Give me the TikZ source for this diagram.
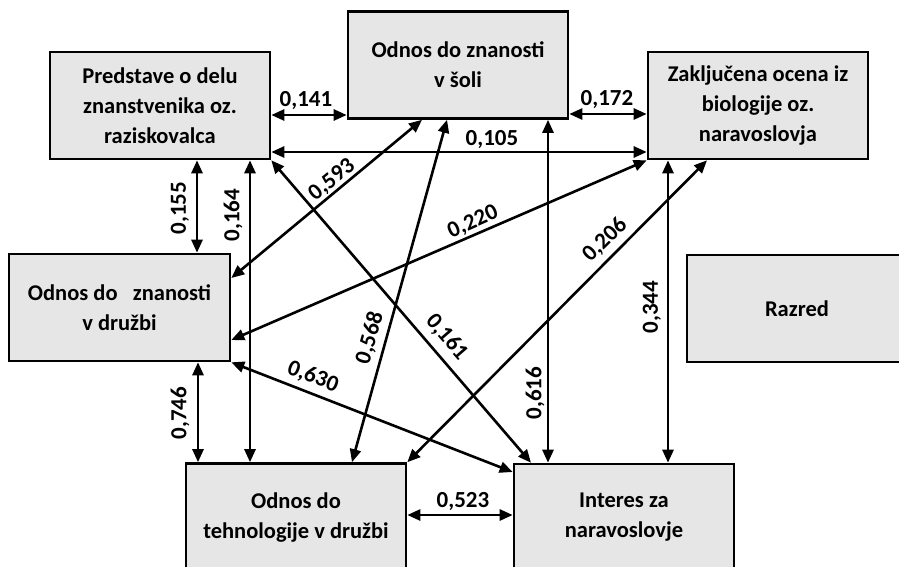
\documentclass[tikz,border=0pt]{standalone}
\usepackage{fontspec}
\setmainfont{Carlito}
\usetikzlibrary{arrows.meta}
\definecolor{boxfill}{RGB}{230,230,230}
\begin{document}
\begin{tikzpicture}[x=1pt,y=-1pt,
  varbox/.style={draw=black, line width=2.6pt, fill=boxfill, minimum width=220pt, minimum height=107pt,
    align=center, inner sep=0pt, font=\fontsize{22.5}{30}\selectfont\bfseries},
  link/.style={line width=2.6pt, {Triangle[length=13pt,width=11pt]}-{Triangle[length=13pt,width=11pt]}},
  coef/.style={font=\fontsize{23}{26}\selectfont\bfseries, inner sep=1pt}]
\useasboundingbox (0,0) rectangle (899,566);
\clip (0,0) rectangle (899,566);
% boxes
\node[varbox] (P) at (160,105.5) {Predstave o delu\\znanstvenika oz.\\raziskovalca};
\node[varbox] (S) at (458,65) {Odnos do znanosti\\v šoli};
\node[varbox] (Z) at (758,105.5) {Zaključena ocena iz\\biologije oz.\\naravoslovja};
\node[varbox, minimum width=221pt] (D) at (119.5,307.5) {Odnos do\ \ \ znanosti\\v družbi};
\node[varbox] (R) at (797,308.5) {Razred};
\node[varbox] (T) at (296,517) {Odnos do\\tehnologije v družbi};
\node[varbox] (I) at (624,517.5) {Interes za\\naravoslovje};
% connectors
\draw[link] (P.east |- 0,115) -- (S.west |- 0,115);
\draw[link] (S.east |- 0,114) -- (Z.west |- 0,114);
\draw[link] (P.east |- 0,152) -- (Z.west |- 0,152);
\draw[link] (P.south -| 197,0) -- (D.north -| 197,0);
\draw[link] (P.south -| 250,0) -- (T.north -| 250,0);
\draw[link] (S.south -| 422,0) -- (D.east |- 0,278);
\draw[link] (S.south -| 447,0) -- (T.north -| 352,0);
\draw[link] (P.south east) -- (I.north -| 531,0);
\draw[link] (S.south -| 548,0) -- (I.north -| 548,0);
\draw[link] (Z.south -| 668,0) -- (I.north -| 668,0);
\draw[link] (Z.south west) -- (D.east |- 0,340);
\draw[link] (Z.south -| 707,0) -- (T.north east);
\draw[link] (D.south east) -- (I.west |- 0,472);
\draw[link] (D.south -| 198,0) -- (T.north -| 198,0);
\draw[link] (T.east |- 0,515) -- (I.west |- 0,515);
% coefficients
\node[coef] (c141) at (306,101) {0,141};
\node[coef] (c172) at (607,100) {0,172};
\node[coef] (c105) at (492,140) {0,105};
\node[coef, rotate=90] (c155) at (180,208) {0,155};
\node[coef, rotate=90] (c164) at (233,215) {0,164};
\node[coef, rotate=39] (c593) at (332,180) {0,593};
\node[coef, rotate=74] (c568) at (370,338) {0,568};
\node[coef, rotate=-49] (c161) at (447,337) {0,161};
\node[coef, rotate=24] (c220) at (473,222) {0,220};
\node[coef, rotate=44.5] (c206) at (605,240) {0,206};
\node[coef, rotate=-21] (c630) at (313,377) {0,630};
\node[coef, rotate=90] (c616) at (535,393) {0,616};
\node[coef, rotate=90] (c344) at (652,307) {0,344};
\node[coef, rotate=90] (c746) at (180,413) {0,746};
\node[coef] (c523) at (463,502) {0,523};
\end{tikzpicture}
\end{document}
